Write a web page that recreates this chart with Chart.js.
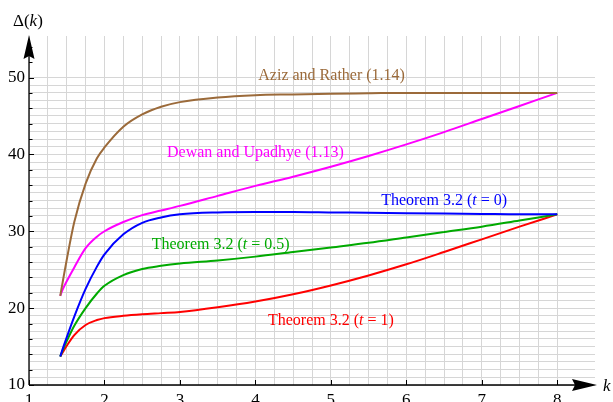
<!DOCTYPE html>
<html>
<head>
<meta charset="utf-8">
<script src="https://cdn.jsdelivr.net/npm/chart.js@4.4.1/dist/chart.umd.min.js"></script>
<style>
  html, body { margin: 0; padding: 0; background: #fff; }
  #wrap { width: 613px; height: 402px; }
</style>
</head>
<body>
<div id="wrap"><canvas id="chart" width="613" height="402"></canvas></div>
<script>
// values, k from sqrt(2) to 8
var kValues      = [1.414, 1.45, 1.5, 1.6, 1.75, 1.9, 2, 2.25, 2.5, 2.75, 3, 3.5, 4, 4.5, 5, 5.5, 6, 6.5, 7, 7.5, 8];
var azizRather   = [21.6, 23.6, 26.3, 31.2, 36.2, 39.5, 40.9, 43.6, 45.2, 46.2, 46.8, 47.4, 47.7, 47.8, 47.9, 47.95, 48, 48, 48, 48, 48];
var dewanUpadhye = [21.6, 22.5, 23.5, 25.3, 27.8, 29.3, 30.0, 31.2, 32.1, 32.7, 33.3, 34.6, 35.9, 37.1, 38.4, 39.8, 41.3, 42.9, 44.6, 46.3, 48.0];
var theoremT0    = [13.7, 14.8, 16.2, 18.9, 22.5, 25.4, 27.0, 29.6, 31.1, 31.8, 32.2, 32.45, 32.5, 32.5, 32.45, 32.4, 32.35, 32.3, 32.25, 32.2, 32.2];
var theoremT05   = [13.7, 14.6, 15.7, 17.7, 20.0, 21.9, 22.9, 24.3, 25.1, 25.5, 25.8, 26.2, 26.7, 27.3, 27.9, 28.5, 29.2, 29.9, 30.6, 31.4, 32.2];
var theoremT1    = [13.7, 14.3, 15.1, 16.5, 17.8, 18.45, 18.7, 19.0, 19.2, 19.35, 19.5, 20.1, 20.85, 21.8, 22.95, 24.25, 25.7, 27.3, 28.95, 30.6, 32.2];

var xTickLabels = [1, 2, 3, 4, 5, 6, 7, 8];
var yTickLabels = [10, 20, 30, 40, 50];
var yTickMarks  = [10, 12, 14, 16, 18, 20, 22, 24, 26, 28, 30, 32, 34, 36, 38, 40, 42, 44, 46, 48, 50, 52, 54];

var serif = '"Liberation Serif", "DejaVu Serif", serif';

function points(ys) {
    return kValues.map(function(k, i) { return {x: k, y: ys[i]}; });
}

function series(values, color, note, at) {
    return {
        data: points(values),
        borderColor: color,
        borderWidth: 2,
        pointRadius: 0,
        fill: false,
        cubicInterpolationMode: 'monotone',
        note: note,
        noteAt: at
    };
}

// label pieces: [text, italic]
var datasets = [
    series(azizRather, '#9b6a3a', [['Aziz and Rather (1.14)', false]], [5.01, 50.2]),
    series(dewanUpadhye, '#ff00ff', [['Dewan and Upadhye (1.13)', false]], [4.0, 40.2]),
    series(theoremT0, '#0000ff', [['Theorem 3.2 (', false], ['t', true], [' = 0)', false]], [6.5, 34.0]),
    series(theoremT05, '#00aa00', [['Theorem 3.2 (', false], ['t', true], [' = 0.5)', false]], [3.54, 28.2]),
    series(theoremT1, '#ff0000', [['Theorem 3.2 (', false], ['t', true], [' = 1)', false]], [5.0, 18.4])
];

function drawPieces(ctx, pieces, cx, cy, size, align) {
    var widths = pieces.map(function(p) {
        ctx.font = (p[1] ? 'italic ' : '') + size + 'px ' + serif;
        return ctx.measureText(p[0]).width;
    });
    var total = widths.reduce(function(a, b) { return a + b; }, 0);
    var x = align === 'center' ? cx - total / 2 : cx;
    pieces.forEach(function(p, i) {
        ctx.font = (p[1] ? 'italic ' : '') + size + 'px ' + serif;
        ctx.fillText(p[0], x, cy);
        x += widths[i];
    });
}

var curveNotes = {
    id: 'curveNotes',
    afterDatasetsDraw: function(chart) {
        var ctx = chart.ctx, xs = chart.scales.x, ys = chart.scales.y;
        ctx.save();
        ctx.textBaseline = 'middle';
        ctx.textAlign = 'left';
        chart.data.datasets.forEach(function(ds) {
            ctx.fillStyle = ds.borderColor;
            drawPieces(ctx, ds.note, xs.getPixelForValue(ds.noteAt[0]), ys.getPixelForValue(ds.noteAt[1]), 16, 'center');
        });
        ctx.restore();
    }
};

function arrowHead(ctx, tipX, tipY, dx, dy, len, half) {
    // dx, dy: unit direction of the arrow
    var bx = tipX - dx * len, by = tipY - dy * len;
    var nx = -dy, ny = dx;
    ctx.beginPath();
    ctx.moveTo(tipX, tipY);
    ctx.lineTo(bx + nx * half, by + ny * half);
    ctx.lineTo(tipX - dx * (len - 3), tipY - dy * (len - 3));
    ctx.lineTo(bx - nx * half, by - ny * half);
    ctx.closePath();
    ctx.fill();
}

var arrowAxes = {
    id: 'arrowAxes',
    afterDraw: function(chart) {
        var ctx = chart.ctx, xs = chart.scales.x, ys = chart.scales.y;
        var x0 = xs.getPixelForValue(xs.min), y0 = ys.getPixelForValue(ys.min);
        var xTip = xs.right + 2, yTip = ys.top - 1;
        ctx.save();
        ctx.strokeStyle = '#000';
        ctx.fillStyle = '#000';
        ctx.lineWidth = 1.3;
        ctx.beginPath();
        ctx.moveTo(x0, y0); ctx.lineTo(xTip - 12, y0);
        ctx.moveTo(x0, y0); ctx.lineTo(x0, yTip + 12);
        ctx.stroke();

        ctx.lineWidth = 1;
        ctx.beginPath();
        yTickMarks.forEach(function(v) {
            var py = Math.round(ys.getPixelForValue(v)) + 0.5;
            var len = v % 10 === 0 ? 5 : 3.5;
            ctx.moveTo(x0, py); ctx.lineTo(x0 + len, py);
        });
        xTickLabels.forEach(function(v) {
            var px = Math.round(xs.getPixelForValue(v)) + 0.5;
            ctx.moveTo(px, y0); ctx.lineTo(px, y0 - 5);
        });
        ctx.stroke();

        arrowHead(ctx, xTip, y0, 1, 0, 25, 6);
        arrowHead(ctx, x0, yTip, 0, -1, 24, 5.5);

        // axis names
        ctx.textBaseline = 'alphabetic';
        ctx.textAlign = 'left';
        drawPieces(ctx, [['\u0394(', false], ['k', true], [')', false]], 13, 26, 17, 'left');
        drawPieces(ctx, [['k', true]], 603, 391, 17, 'left');
        ctx.restore();
    }
};

new Chart(document.getElementById('chart'), {
    type: 'line',
    data: { datasets: datasets },
    plugins: [curveNotes, arrowAxes],
    options: {
        responsive: false,
        animation: false,
        devicePixelRatio: 1,
        layout: { padding: { top: 36, right: 18, left: 0, bottom: 0 } },
        plugins: { legend: { display: false }, tooltip: { enabled: false } },
        scales: {
            x: {
                type: 'linear',
                min: 1,
                max: 8.5,
                border: { display: false },
                grid: { color: '#d6d6d6', lineWidth: 1, drawTicks: false },
                afterBuildTicks: function(s) {
                    s.ticks = s.ticks.filter(function(t) { return t.value <= xTickLabels[xTickLabels.length - 1]; });
                },
                afterFit: function(s) { s.height = 17; },
                ticks: {
                    stepSize: 0.25,
                    autoSkip: false,
                    maxRotation: 0,
                    padding: 5,
                    color: '#000',
                    font: { family: serif, size: 17 },
                    callback: function(v) { return xTickLabels.indexOf(v) >= 0 ? String(v) : ''; }
                }
            },
            y: {
                type: 'linear',
                min: 10,
                max: 55.4,
                border: { display: false },
                grid: { color: '#d6d6d6', lineWidth: 1, drawTicks: false },
                afterBuildTicks: function(s) {
                    s.ticks = s.ticks.filter(function(t) { return t.value <= yTickLabels[yTickLabels.length - 1]; });
                },
                afterFit: function(s) { s.width = 29; },
                ticks: {
                    stepSize: 1,
                    autoSkip: false,
                    padding: 4,
                    color: '#000',
                    font: { family: serif, size: 17 },
                    callback: function(v) { return yTickLabels.indexOf(v) >= 0 ? String(v) : ''; }
                }
            }
        }
    }
});
</script>
</body>
</html>
